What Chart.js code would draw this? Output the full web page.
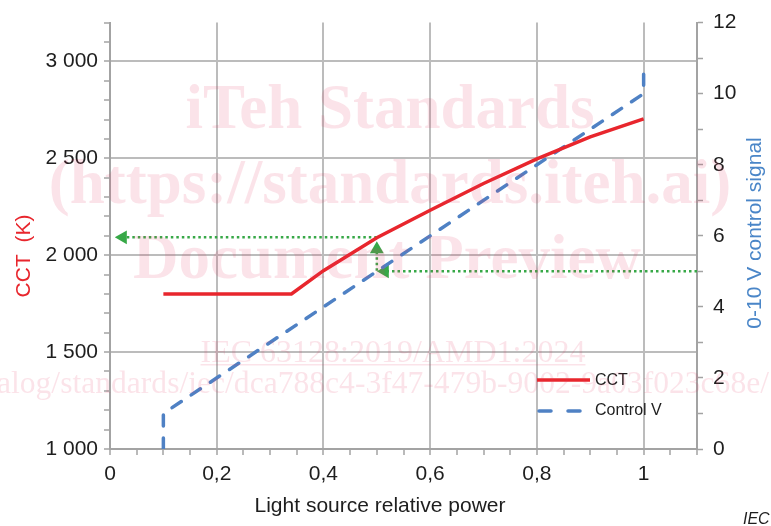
<!DOCTYPE html>
<html>
<head>
<meta charset="utf-8">
<script src="https://cdn.jsdelivr.net/npm/chart.js@4/dist/chart.umd.min.js"></script>
<style>
  body { margin: 0; background: #fff; }
  #wrap { width: 771px; height: 526px; position: relative; }
</style>
</head>
<body>
<div id="wrap"><canvas id="cctChart"></canvas></div>
<script>
// --- values ---
const cctPower  = [0.1, 0.34, 0.4, 0.45, 0.5, 0.6, 0.7, 0.8, 0.9, 1.0];
const cctKelvin = [1800, 1800, 1920, 2005, 2090, 2232, 2370, 2497, 2610, 2703];
const ctrlPower = [0.1, 0.1, 1.0, 1.0];
const ctrlVolts = [0, 1, 10, 10.7];

// green dotted guides (last point carries the arrow head)
const guideVPower    = [1.1, 0.515];
const guideVVolts    = [5, 5];
const guideUpPower   = [0.5, 0.5];
const guideUpKelvin  = [1920, 2030];
const guideLeftPower = [0.5, 0.024];
const guideLeftKelvin = [2092, 2092];

// tick labels
const xTickValues = [0, 0.2, 0.4, 0.6, 0.8, 1];
const xTickLabels = ['0', '0,2', '0,4', '0,6', '0,8', '1'];
const cctTickValues = [1000, 1500, 2000, 2500, 3000];
const cctTickLabels = ['1 000', '1 500', '2 000', '2 500', '3 000'];
const voltTickValues = [0, 2, 4, 6, 8, 10, 12];
const voltTickLabels = ['0', '2', '4', '6', '8', '10', '12'];

const RED = '#e8262d';
const BLUE = '#4f81c4';
const GREEN = '#37a847';
const GRID = '#bcbcbc';
const AXIS = '#a3a3a3';
const FONT = '"Liberation Sans", Arial, sans-serif';

const pts = (xs, ys) => xs.map((x, i) => ({ x: x, y: ys[i] }));
const lookup = (vals, labels, v) => {
  const i = vals.findIndex(t => Math.abs(t - v) < 1e-6);
  return i >= 0 ? labels[i] : '';
};
const isMajor = (vals, v) => vals.some(t => Math.abs(t - v) < 1e-6);

function guide(data, axis, rot) {
  return {
    data: data,
    yAxisID: axis,
    borderColor: GREEN,
    borderWidth: 2.5,
    borderDash: [2.5, 3],
    pointRadius: [0, 8],
    pointStyle: 'triangle',
    pointRotation: rot,
    pointBackgroundColor: GREEN,
    pointBorderWidth: 0,
    tension: 0
  };
}

// titles, legend, watermark
const extras = {
  id: 'extras',
  afterDraw(chart) {
    const ctx = chart.ctx;
    ctx.save();
    ctx.textAlign = 'center';
    ctx.textBaseline = 'middle';
    ctx.font = '21px ' + FONT;
    ctx.fillStyle = '#1e1e1e';
    ctx.fillText('Light source relative power', 380, 506);

    ctx.save();
    ctx.translate(24, 256);
    ctx.rotate(-Math.PI / 2);
    ctx.fillStyle = RED;
    ctx.fillText('CCT  (K)', 0, 0);
    ctx.restore();

    ctx.save();
    ctx.translate(755, 233);
    ctx.rotate(-Math.PI / 2);
    ctx.fillStyle = '#4a86c8';
    ctx.fillText('0-10 V control signal', 0, 0);
    ctx.restore();

    // legend
    ctx.lineWidth = 3.5;
    ctx.strokeStyle = RED;
    ctx.beginPath(); ctx.moveTo(537, 380); ctx.lineTo(590, 380); ctx.stroke();
    ctx.strokeStyle = BLUE;
    ctx.lineCap = 'round';
    ctx.setLineDash([12, 17]);
    ctx.beginPath(); ctx.moveTo(539, 411); ctx.lineTo(582, 411); ctx.stroke();
    ctx.setLineDash([]);
    ctx.font = '16px ' + FONT;
    ctx.textAlign = 'left';
    ctx.fillStyle = '#1e1e1e';
    ctx.fillText('CCT', 595, 381);
    ctx.fillText('Control V', 595, 411);

    ctx.font = 'italic 16px ' + FONT;
    ctx.fillText('IEC', 743, 520);

    // watermark
    ctx.fillStyle = 'rgba(225, 60, 100, 0.14)';
    ctx.textAlign = 'center';
    ctx.textBaseline = 'alphabetic';
    ctx.font = 'bold 63px "Liberation Serif", "Times New Roman", serif';
    ctx.fillText('iTeh Standards', 390, 128);
    ctx.fillText('(https://standards.iteh.ai)', 390, 203);
    ctx.fillText('Document Preview', 387, 278);
    ctx.font = '32px "Liberation Serif", "Times New Roman", serif';
    const t4 = 'IEC 63128:2019/AMD1:2024';
    ctx.fillText(t4, 393, 362);
    const w4 = ctx.measureText(t4).width;
    ctx.fillRect(393 - w4 / 2, 364, w4, 1.5);
    ctx.font = '31.6px "Liberation Serif", "Times New Roman", serif';
    ctx.textAlign = 'right';
    ctx.fillText('https://standards.iteh.ai/catalog/standards/iec/dca788c4-3f47-479b-9002-9a03f023c68e/', 769, 393);
    ctx.restore();
  }
};

new Chart(document.getElementById('cctChart').getContext('2d'), {
  type: 'line',
  data: {
    datasets: [
      {
        label: 'CCT',
        data: pts(cctPower, cctKelvin),
        yAxisID: 'y',
        borderColor: RED,
        borderWidth: 3.5,
        pointRadius: 0,
        tension: 0
      },
      {
        label: 'Control V',
        data: pts(ctrlPower, ctrlVolts),
        yAxisID: 'y1',
        borderColor: BLUE,
        borderWidth: 3.5,
        borderDash: [11, 12],
        borderCapStyle: 'round',
        pointRadius: 0,
        tension: 0
      },
      guide(pts(guideVPower, guideVVolts), 'y1', -90),
      guide(pts(guideUpPower, guideUpKelvin), 'y', 0),
      guide(pts(guideLeftPower, guideLeftKelvin), 'y', -90)
    ]
  },
  options: {
    responsive: true,
    maintainAspectRatio: false,
    animation: false,
    layout: { padding: { top: 22, left: 0, right: 0, bottom: 0 } },
    plugins: { legend: { display: false }, tooltip: { enabled: false } },
    scales: {
      x: {
        type: 'linear',
        min: 0,
        max: 1.1,
        afterFit: s => { s.height = 77; },
        ticks: {
          stepSize: 0.05,
          autoSkip: false,
          maxRotation: 0,
          padding: 7,
          color: '#1e1e1e',
          font: { size: 21, family: FONT },
          callback: v => lookup(xTickValues, xTickLabels, v)
        },
        grid: {
          color: c => (c.tick && isMajor(xTickValues, c.tick.value)) ? GRID : 'transparent',
          lineWidth: 2,
          tickLength: 6,
          tickColor: AXIS,
          tickWidth: 1.5
        },
        border: { color: AXIS, width: 2 }
      },
      y: {
        position: 'left',
        min: 1000,
        max: 3200,
        afterFit: s => { s.width = 110; },
        ticks: {
          stepSize: 100,
          autoSkip: false,
          padding: 6,
          color: '#1e1e1e',
          font: { size: 21, family: FONT },
          callback: v => lookup(cctTickValues, cctTickLabels, v)
        },
        grid: {
          color: c => (c.tick && c.tick.value > 1000 && isMajor(cctTickValues, c.tick.value)) ? GRID : 'transparent',
          lineWidth: 2,
          tickLength: 6,
          tickColor: AXIS,
          tickWidth: 1.5
        },
        border: { color: AXIS, width: 2 }
      },
      y1: {
        position: 'right',
        min: 0,
        max: 12,
        afterFit: s => { s.width = 74; },
        ticks: {
          stepSize: 1,
          autoSkip: false,
          padding: 10,
          color: '#1e1e1e',
          font: { size: 21, family: FONT },
          callback: v => lookup(voltTickValues, voltTickLabels, v)
        },
        grid: {
          drawOnChartArea: false,
          tickLength: 6,
          tickColor: AXIS,
          tickWidth: 1.5
        },
        border: { color: AXIS, width: 2 }
      }
    }
  },
  plugins: [extras]
});
</script>
</body>
</html>
